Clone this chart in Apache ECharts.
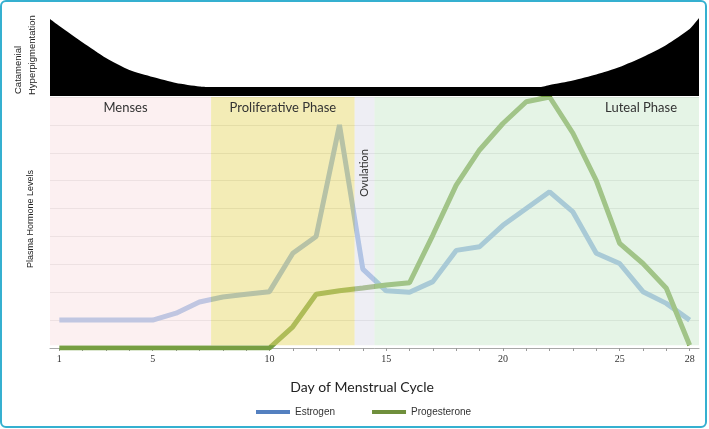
<!DOCTYPE html>
<html>
<head>
<meta charset="utf-8">
<script src="https://cdn.jsdelivr.net/npm/echarts@6/dist/echarts.min.js"></script>
<style>
  html, body { margin: 0; padding: 0; background: #fff; }
  #chart { width: 709px; height: 429px; }
</style>
</head>
<body>
<div id="chart"></div>
<script>
// day of cycle
const days = [1, 2, 3, 4, 5, 6, 7, 8, 9, 10, 11, 12, 13, 14, 15, 16, 17, 18, 19, 20, 21, 22, 23, 24, 25, 26, 27, 28];
const estrogen = [1.0, 1.0, 1.0, 1.0, 1.0, 1.25, 1.65, 1.83, 1.93, 2.02, 3.4, 4.0, 8.0, 2.83, 2.05, 2.0, 2.38, 3.5, 3.63, 4.4, 5.0, 5.6, 4.88, 3.4, 3.03, 2.02, 1.6, 1.0];
const progesterone = [0, 0, 0, 0, 0, 0, 0, 0, 0, 0, 0.76, 1.93, 2.05, 2.15, 2.26, 2.34, 4.05, 5.84, 7.1, 8.05, 8.83, 9.0, 7.7, 6.0, 3.75, 3.03, 2.14, 0.1];
const tickDays = [1, 5, 10, 15, 20, 25, 28];

// catamenial hyperpigmentation band (day, height)
const pigDays = [0.6, 1, 2, 3, 4, 5, 6, 7, 7.4, 21.6, 22, 23, 24, 25, 26, 27, 28, 28.4];
const pigLevel = [77, 70, 53.5, 38, 26, 19, 13, 9.5, 9, 9, 11, 15.5, 21.5, 29, 39, 51, 67, 78];

// phases of the cycle
const phaseNames = ['Menses', 'Proliferative Phase', 'Ovulation', 'Luteal Phase'];
const phaseStart = [0.6, 7.5, 13.65, 14.5];
const phaseEnd = [7.5, 13.65, 14.5, 28.4];

const phaseColors = ['#f9e1e3', '#e7d96d', '#dddde9', '#cbe9cd'];
const phaseLabels = [
  { position: 'insideTop', offset: [-5, 0], distance: 4 },
  { position: 'insideTop', distance: 4 },
  { position: ['50%', 76], rotate: 90, align: 'center', verticalAlign: 'middle', fontSize: 11 },
  { position: 'insideTopRight', distance: 4, offset: [-18, 0] }
];

const myChart = echarts.init(document.getElementById('chart'));
const sans = "'Liberation Sans', Arial, sans-serif";

const option = {
  animation: false,
  grid: [
    { left: 50, right: 10, top: 18, height: 78 },
    { left: 50, right: 10, top: 97, bottom: 81 }
  ],
  xAxis: [
    { gridIndex: 0, type: 'value', min: 0.6, max: 28.4, show: false },
    {
      gridIndex: 1, type: 'value', min: 0.6, max: 28.4,
      name: 'Day of Menstrual Cycle',
      nameLocation: 'middle',
      nameGap: 32,
      nameTextStyle: { fontSize: 14, color: '#222', fontFamily: 'Lato', padding: [0, 25, 0, 0] },
      axisLine: { lineStyle: { color: '#a8a8a8', width: 1 } },
      axisTick: { length: 3, lineStyle: { color: '#999' }, customValues: days },
      axisLabel: {
        customValues: tickDays,
        margin: 6,
        fontSize: 10,
        color: '#333',
        fontFamily: "'Liberation Serif', serif"
      },
      splitLine: { show: false }
    }
  ],
  yAxis: [
    { gridIndex: 0, type: 'value', min: 0, max: 78, show: false },
    {
      gridIndex: 1, type: 'value', min: 0, max: 9, interval: 1,
      axisLine: { show: false },
      axisTick: { show: false },
      axisLabel: { show: false },
      splitLine: { lineStyle: { color: 'rgba(0,0,0,0.12)' } }
    }
  ],
  legend: {
    left: 251,
    top: 402,
    icon: 'rect',
    itemWidth: 34,
    itemHeight: 4,
    itemGap: 37,
    textStyle: { fontSize: 10, color: '#333', fontFamily: sans },
    data: [
      { name: 'Estrogen', itemStyle: { color: '#5480c0' } },
      { name: 'Progesterone', itemStyle: { color: '#6f8f3c' } }
    ]
  },
  graphic: [
    {
      type: 'rect',
      shape: { x: 1, y: 1, width: 705, height: 426, r: 5 },
      style: { fill: 'none', stroke: '#35b0d0', lineWidth: 2 }
    },
    {
      type: 'text', x: 18, y: 94, rotation: Math.PI / 2,
      style: { text: 'Catamenial', fontSize: 9.5, fill: '#222', fontFamily: sans, align: 'left', verticalAlign: 'middle' }
    },
    {
      type: 'text', x: 32, y: 95, rotation: Math.PI / 2,
      style: { text: 'Hyperpigmentation', fontSize: 9.5, fill: '#222', fontFamily: sans, align: 'left', verticalAlign: 'middle' }
    },
    {
      type: 'text', x: 31, y: 219, rotation: Math.PI / 2,
      style: { text: 'Plasma Hormone Levels', fontSize: 9, fill: '#222', fontFamily: sans, align: 'center', verticalAlign: 'middle' }
    }
  ],
  series: [
    {
      name: 'pigmentation',
      type: 'line',
      xAxisIndex: 0,
      yAxisIndex: 0,
      z: 5,
      smooth: 0.2,
      showSymbol: false,
      lineStyle: { width: 0 },
      areaStyle: { color: '#000', opacity: 1 },
      data: pigDays.map((d, i) => [d, pigLevel[i]])
    },
    {
      name: 'Estrogen',
      type: 'line',
      xAxisIndex: 1,
      yAxisIndex: 1,
      z: 2,
      showSymbol: false,
      lineStyle: { color: '#86abdf', width: 5 },
      itemStyle: { color: '#86abdf' },
      data: days.map((d, i) => [d, estrogen[i]])
    },
    {
      name: 'Progesterone',
      type: 'line',
      xAxisIndex: 1,
      yAxisIndex: 1,
      z: 2,
      showSymbol: false,
      lineStyle: { color: '#769e42', width: 5 },
      itemStyle: { color: '#769e42' },
      data: days.map((d, i) => [d, progesterone[i]])
    },
    {
      name: 'phases',
      type: 'line',
      xAxisIndex: 1,
      yAxisIndex: 1,
      z: 3,
      data: [],
      markArea: {
        silent: true,
        z: 4,
        data: phaseNames.map((name, i) => [
          {
            name: name,
            xAxis: phaseStart[i],
            yAxis: 0.1,
            itemStyle: { color: phaseColors[i], opacity: 0.5 },
            label: Object.assign({ color: '#333', fontSize: 13, fontFamily: 'Lato' }, phaseLabels[i])
          },
          { xAxis: phaseEnd[i], yAxis: 9 }
        ])
      }
    }
  ]
};

myChart.setOption(option);
</script>
</body>
</html>
